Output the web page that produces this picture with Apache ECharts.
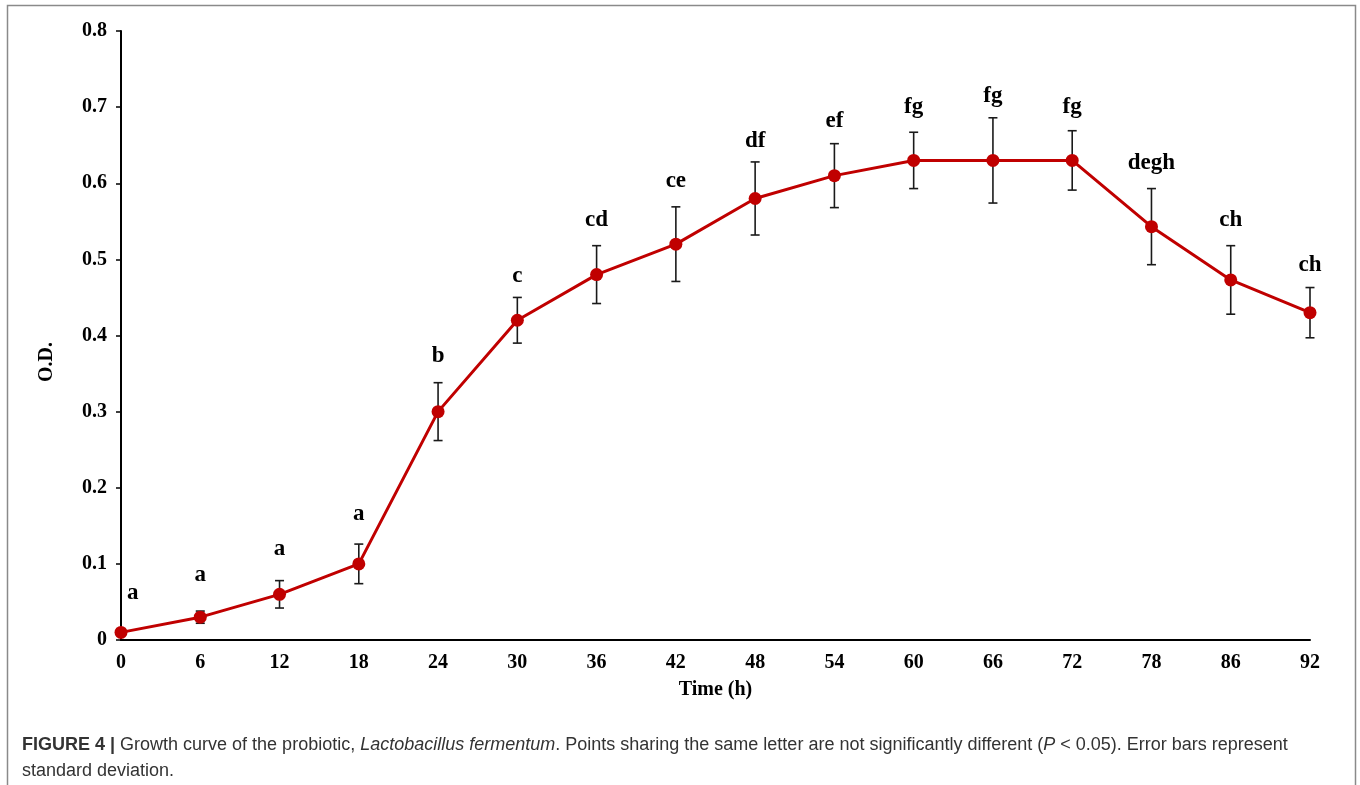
<!DOCTYPE html>
<html>
<head>
<meta charset="utf-8">
<script src="https://cdn.jsdelivr.net/npm/echarts@6/dist/echarts.min.js"></script>
<style>
  html, body { margin: 0; padding: 0; background: #fff; }
  #chart { width: 1360px; height: 785px; }
</style>
</head>
<body>
<div id="chart"></div>
<script>
const hours = ['0', '6', '12', '18', '24', '30', '36', '42', '48', '54', '60', '66', '72', '78', '86', '92']
const od = [0.01, 0.03, 0.06, 0.10, 0.30, 0.42, 0.48, 0.52, 0.58, 0.61, 0.63, 0.63, 0.63, 0.543, 0.473, 0.43]
const sd = [0.004, 0.008, 0.018, 0.026, 0.038, 0.03, 0.038, 0.049, 0.048, 0.042, 0.037, 0.056, 0.039, 0.05, 0.045, 0.033]
const letters = ['a', 'a', 'a', 'a', 'b', 'c', 'cd', 'ce', 'df', 'ef', 'fg', 'fg', 'fg', 'degh', 'ch', 'ch']
// height (in O.D. units) where each letter group sits
const letterAt = [0.062, 0.085, 0.12, 0.166, 0.373, 0.478, 0.551, 0.603, 0.656, 0.682, 0.700, 0.714, 0.700, 0.627, 0.552, 0.493]

const serif = '"Liberation Serif", "Times New Roman", serif'
const sans = '"Liberation Sans", Arial, sans-serif'

const errData = od.map((v, i) => [i, v - sd[i], v + sd[i]])
const letterData = letterAt.map((v, i) => [i, v, letters[i]])

const chart = echarts.init(document.getElementById('chart'))

const option = {
    backgroundColor: '#fff',
    animation: false,
    grid: {
        left: 121,
        right: 50,
        top: 31,
        bottom: 145
    },
    xAxis: {
        type: 'category',
        data: hours,
        boundaryGap: false,
        name: 'Time (h)',
        nameLocation: 'middle',
        nameGap: 40,
        nameTextStyle: {
            fontFamily: serif, fontWeight: 'bold', fontSize: 20, color: '#000'
        },
        axisLine: {lineStyle: {color: '#000', width: 2}},
        axisTick: {show: false},
        axisLabel: {
            margin: 13,
            fontFamily: serif, fontWeight: 'bold', fontSize: 20, color: '#000'
        },
        splitLine: {show: false}
    },
    yAxis: {
        type: 'value',
        min: 0,
        max: 0.8,
        interval: 0.1,
        axisLine: {show: true, lineStyle: {color: '#000', width: 2}},
        axisTick: {show: true, length: 5, lineStyle: {color: '#000', width: 1.5}},
        axisLabel: {
            margin: 14,
            fontFamily: serif, fontWeight: 'bold', fontSize: 20, color: '#000',
            formatter: v => v === 0 ? '0' : v.toFixed(1)
        },
        splitLine: {show: false}
    },
    graphic: [
        {
            type: 'rect',
            silent: true,
            shape: {x: 7.5, y: 5.5, width: 1348, height: 900},
            style: {fill: 'none', stroke: '#8a8a8a', lineWidth: 1.5}
        },
        {
            type: 'text',
            x: 47,
            y: 362,
            rotation: Math.PI / 2,
            style: {
                text: 'O.D.',
                fill: '#000',
                font: 'bold 20px ' + serif,
                textAlign: 'center',
                textVerticalAlign: 'middle'
            }
        },
        {
            type: 'text',
            left: 22,
            top: 732,
            style: {
                text: '{b|FIGURE 4 |} Growth curve of the probiotic, {i|Lactobacillus fermentum}. Points sharing the same letter are not significantly different ({i|P} < 0.05). Error bars represent\nstandard deviation.',
                fill: '#333',
                font: '18px ' + sans,
                lineHeight: 26,
                rich: {
                    b: {fontWeight: 'bold', fontSize: 18, fontFamily: sans, fill: '#333', lineHeight: 26},
                    i: {fontStyle: 'italic', fontSize: 18, fontFamily: sans, fill: '#333', lineHeight: 26}
                }
            }
        }
    ],
    series: [
        {
            type: 'custom',
            name: 'sd',
            z: 1,
            data: errData,
            renderItem(params, api) {
                const x = api.value(0)
                const lo = api.coord([x, api.value(1)])
                const hi = api.coord([x, api.value(2)])
                const cap = 4.5
                const st = {stroke: '#1a1a1a', lineWidth: 1.6}
                return {
                    type: 'group',
                    children: [
                        {type: 'line', shape: {x1: lo[0], y1: lo[1], x2: hi[0], y2: hi[1]}, style: st},
                        {type: 'line', shape: {x1: hi[0] - cap, y1: hi[1], x2: hi[0] + cap, y2: hi[1]}, style: st},
                        {type: 'line', shape: {x1: lo[0] - cap, y1: lo[1], x2: lo[0] + cap, y2: lo[1]}, style: st}
                    ]
                }
            }
        },
        {
            type: 'line',
            name: 'O.D.',
            z: 3,
            data: od,
            symbol: 'circle',
            symbolSize: 13,
            lineStyle: {color: '#c00000', width: 3},
            itemStyle: {color: '#c00000'}
        },
        {
            type: 'custom',
            name: 'letters',
            z: 4,
            data: letterData,
            renderItem(params, api) {
                const p = api.coord([api.value(0), api.value(1)])
                // the first letter sits just right of the y axis
                const first = params.dataIndex === 0
                return {
                    type: 'text',
                    x: first ? p[0] + 6 : p[0],
                    y: p[1],
                    style: {
                        text: letters[params.dataIndex],
                        fill: '#000',
                        font: 'bold 23px ' + serif,
                        textAlign: first ? 'left' : 'center',
                        textVerticalAlign: 'middle'
                    }
                }
            }
        }
    ]
}

chart.setOption(option)
</script>
</body>
</html>
